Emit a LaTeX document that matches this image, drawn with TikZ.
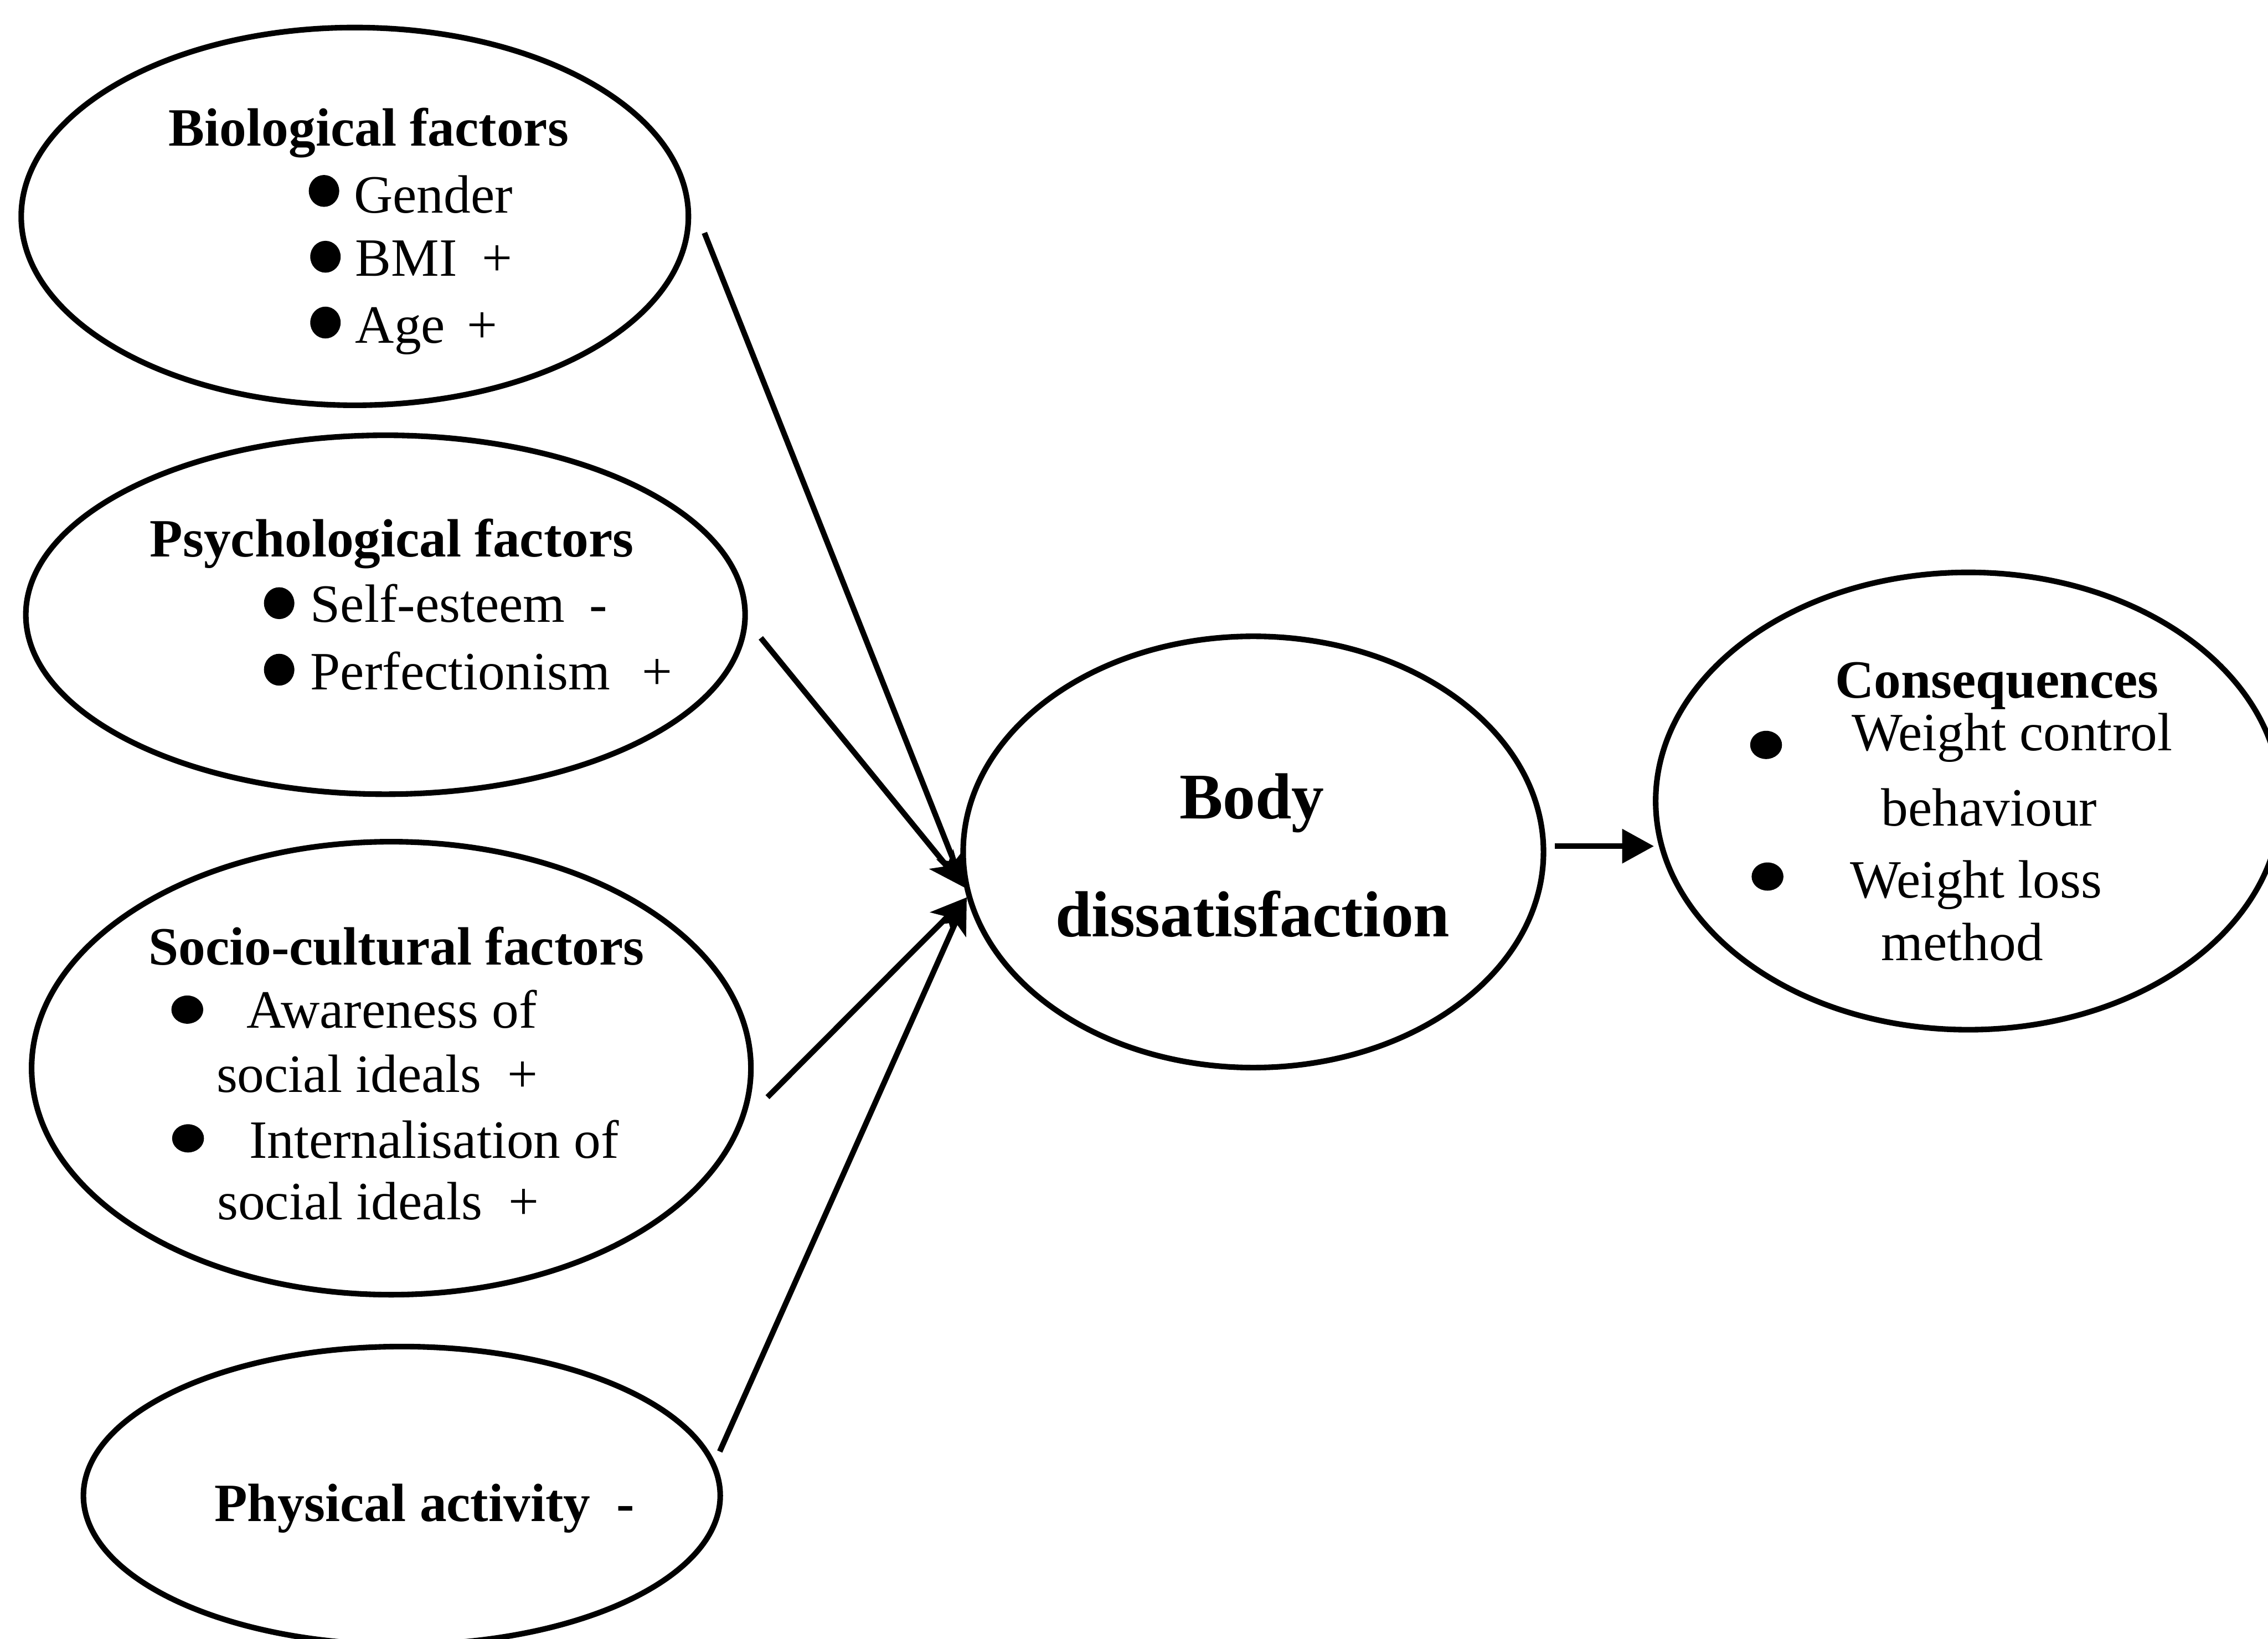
\documentclass[tikz,border=0pt]{standalone}
\usepackage{fontspec}
\setmainfont{Liberation Serif}
\usetikzlibrary{shapes.geometric,arrows.meta}
\tikzset{
  oval/.style={draw, ellipse, line width=1.1pt, inner sep=0pt},
  lbl/.style={anchor=base west, inner sep=0pt, font=\fontsize{10.6}{12.8}\selectfont},
  hdr/.style={anchor=base west, inner sep=0pt, font=\fontsize{10.6}{12.8}\selectfont\bfseries},
  big/.style={anchor=base, inner sep=0pt, font=\fontsize{12.8}{15}\selectfont\bfseries},
  dot/.style={ellipse, fill=black, inner sep=0pt, minimum width=0.21cm, minimum height=0.22cm},
  dotb/.style={ellipse, fill=black, inner sep=0pt, minimum width=0.22cm, minimum height=0.195cm},
  link/.style={line width=1.1pt, -{Stealth[length=0.25cm,width=0.21cm,inset=0.06cm]}},
  linkr/.style={line width=1.1pt, -{Triangle[length=0.22cm,width=0.23cm]}}
}
\begin{document}
\begin{tikzpicture}[x=0.01cm, y=-0.01cm]
\useasboundingbox (0,0) rectangle (1568,1133);
\clip (0,0) rectangle (1568,1133);

% ellipses
\node[oval, minimum width=4.61cm, minimum height=2.61cm] (bio) at (245.3,149.6) {};
\node[oval, minimum width=4.97cm, minimum height=2.48cm] (psy) at (266.5,425) {};
\node[oval, minimum width=4.97cm, minimum height=3.13cm] (soc) at (270.5,738.5) {};
\node[oval, minimum width=4.40cm, minimum height=2.06cm] (phy) at (277.8,1034) {};
\node[oval, minimum width=4.01cm, minimum height=2.98cm] (bd) at (866.5,589) {};
\node[oval, minimum width=4.32cm, minimum height=3.16cm] (cons) at (1360.8,553.8) {};

% biological
\node[hdr] (bioh) at (116,101) {Biological factors};
\node[dot] (bd1) at (224,132) {};
\node[lbl] (bio1) at (244,147) {Gender};
\node[dot] (bd2) at (225,177.5) {};
\node[lbl] (bio2) at (245,191) {BMI\hspace{0.17cm}+};
\node[dot] (bd3) at (225,223) {};
\node[lbl] (bio3) at (245,237) {Age\hspace{0.15cm}+};

% psychological
\node[hdr] (psyh) at (103,385) {Psychological factors};
\node[dot] (pd1) at (193,417) {};
\node[lbl] (psy1) at (214,430) {Self-esteem\hspace{0.17cm}-};
\node[dot] (pd2) at (193,463) {};
\node[lbl] (psy2) at (214,476.6) {Perfectionism\hspace{0.22cm}+};

% socio-cultural
\node[hdr] (soch) at (102,667) {Socio-cultural factors};
\node[dotb] (sd1) at (129.5,698) {};
\node[lbl] (soc1) at (170,710.5) {Awareness of};
\node[lbl] (soc2) at (149,755) {social ideals\hspace{0.18cm}+};
\node[dotb] (sd2) at (130,787) {};
\node[lbl] (soc3) at (171.6,800.7) {Internalisation of};
\node[lbl] (soc4) at (149.5,843) {social ideals\hspace{0.18cm}+};

% physical
\node[hdr] (phyt) at (147.6,1051.6) {Physical activity\hspace{0.18cm}-};

% body dissatisfaction
\node[big] (bdt1) at (865.5,566) {Body};
\node[big] (bdt2) at (866,647.5) {dissatisfaction};

% consequences
\node[hdr] (consh) at (1268,482.6) {Consequences};
\node[dotb] (cd1) at (1221,515) {};
\node[lbl] (cons1) at (1279.5,519) {Weight control};
\node[lbl] (cons2) at (1300,571) {behaviour};
\node[dotb] (cd2) at (1222,606) {};
\node[lbl] (cons3) at (1278.5,620.6) {Weight loss};
\node[lbl] (cons4) at (1300,664) {method};

% connectors
\coordinate (s1) at (487,161);
\coordinate (s2) at (526,441);
\coordinate (s3) at (530.6,758.5);
\coordinate (s4) at (497.6,1003.5);
\coordinate (r1) at (1075,585);
\coordinate (r2) at (1143.5,585);
\draw[link] (s1) -- (bd.187);
\draw[link] (s2) -- (bd.187);
\draw[link] (s3) -- (bd.189);
\draw[link] (s4) -- (bd.189);
\draw[linkr] (r1) -- (r2);
\end{tikzpicture}
\end{document}
